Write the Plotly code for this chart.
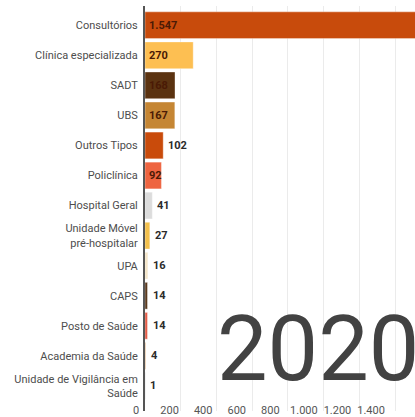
import plotly.graph_objects as go

# Establishment types and counts (2020)
categories = [
    "Consultórios",
    "Clínica especializada",
    "SADT",
    "UBS",
    "Outros Tipos",
    "Policlínica",
    "Hospital Geral",
    "Unidade Móvel<br>pré-hospitalar",
    "UPA",
    "CAPS",
    "Posto de Saúde",
    "Academia da Saúde",
    "Unidade de Vigilância em<br>Saúde",
]
values = [1547, 270, 168, 167, 102, 92, 41, 27, 16, 14, 14, 4, 1]
colors = [
    "#C84B0C", "#FDBF52", "#5B3311", "#C58634", "#C94B0B", "#EE6440",
    "#DCDCDC", "#F3C04C", "#F4E5C8", "#5A3A1E", "#E45C47", "#D9A066", "#A0A0A0",
]
label_inside = [True, True, True, True, False, True,
                False, False, False, False, False, False, False]
tick_values = [0, 200, 400, 600, 800, 1000, 1200, 1400]
year_label = "2020"


def fmt(v):
    return f"{v:,}".replace(",", ".")


fig = go.Figure()
fig.add_trace(go.Bar(
    x=values,
    y=categories,
    orientation="h",
    marker=dict(color=colors, line=dict(color="rgba(255,255,255,0.45)", width=0.8)),
    hoverinfo="skip",
))

# second x axis carrying only the tick labels
fig.add_trace(go.Scatter(x=[None], y=[None], xaxis="x2", yaxis="y", showlegend=False, hoverinfo="skip"))

# value labels: inside the bar start for the wide bars, after the bar end otherwise
annotations = []
for cat, val, inside in zip(categories, values, label_inside):
    annotations.append(dict(
        text=fmt(val),
        xref="x", yref="y",
        x=0 if inside else val, y=cat,
        xanchor="left", yanchor="middle",
        xshift=2 if inside else 3,
        showarrow=False,
        font=dict(family="Roboto", size=11, weight="bold",
                  color="#4a1a05" if inside else "#2b2b2b"),
    ))

annotations.append(dict(
    text=year_label,
    xref="paper", yref="paper",
    x=0.298, y=0.152,
    xanchor="left", yanchor="middle",
    showarrow=False,
    font=dict(family="Roboto", size=90, color="#424242"),
))

fig.update_layout(
    width=415,
    height=417,
    margin=dict(l=130, r=0, t=6, b=0),
    paper_bgcolor="white",
    plot_bgcolor="rgba(0,0,0,0)",
    showlegend=False,
    bargap=0.11,
    font=dict(family="Roboto", color="#555555"),
    xaxis=dict(
        domain=[15 / 285, 1],
        range=[0, 1512],
        tickvals=tick_values,
        showticklabels=False,
        showgrid=True,
        gridcolor="#EBEBEB",
        gridwidth=1,
        zeroline=False,
        fixedrange=True,
    ),
    xaxis2=dict(
        domain=[0, 1],
        anchor="free",
        position=0.022,
        range=[-35.7, 1661.9],
        tickvals=tick_values,
        ticktext=[fmt(v) for v in tick_values],
        tickfont=dict(family="Roboto", size=11, color="#555555"),
        showgrid=False,
        zeroline=False,
        showline=False,
        ticks="",
        fixedrange=True,
    ),
    yaxis=dict(
        categoryorder="array",
        categoryarray=categories,
        range=[12.835, -0.64],
        tickfont=dict(family="Roboto", size=11, color="#4d4d4d"),
        ticks="",
        ticklabelstandoff=3,
        showline=True,
        linecolor="#555555",
        linewidth=2,
        showgrid=False,
        zeroline=False,
        fixedrange=True,
    ),
    annotations=annotations,
)

fig.write_html("out.html")
